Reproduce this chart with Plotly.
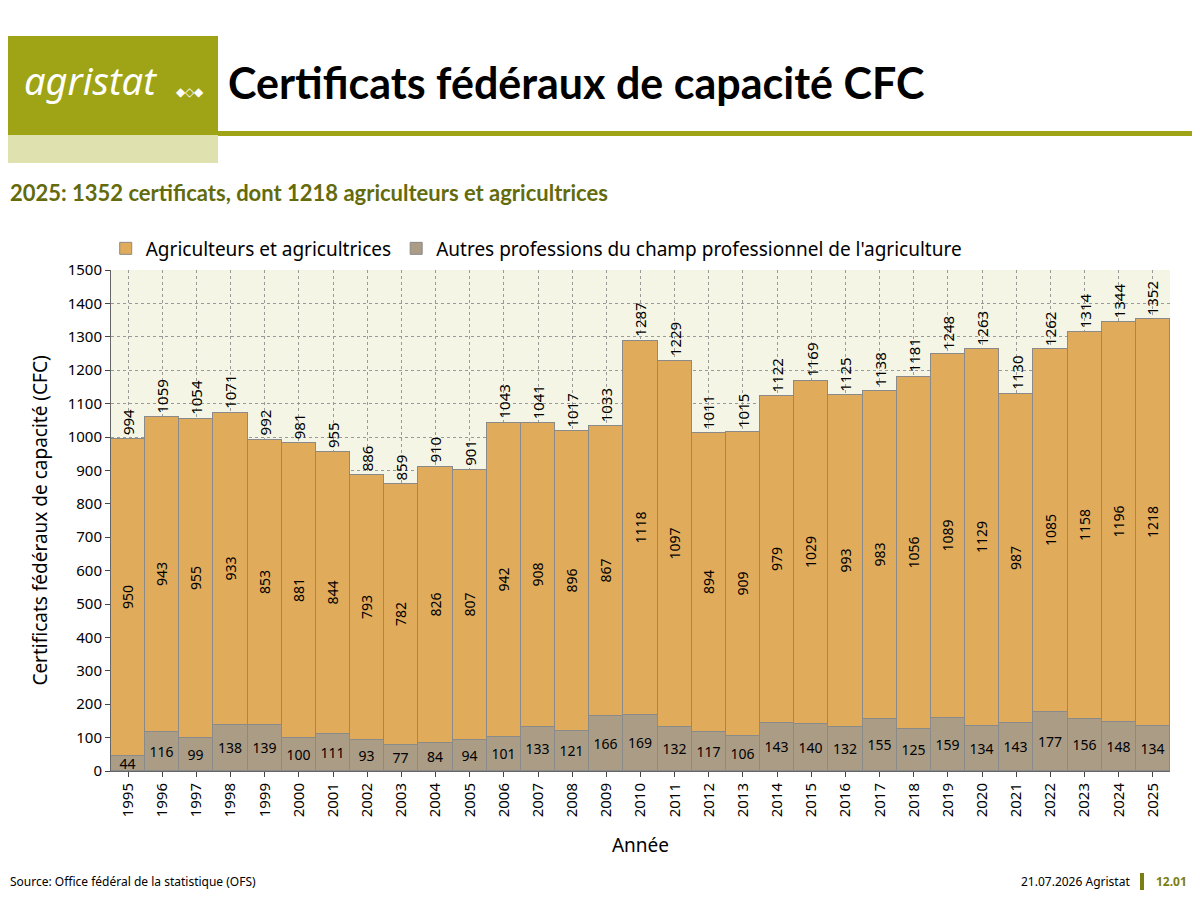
import plotly.graph_objects as go

years = [str(y) for y in range(1995, 2026)]
autres = [44, 116, 99, 138, 139, 100, 111, 93, 77, 84, 94, 101, 133, 121, 166, 169,
          132, 117, 106, 143, 140, 132, 155, 125, 159, 134, 143, 177, 156, 148, 134]
agriculteurs = [950, 943, 955, 933, 853, 881, 844, 793, 782, 826, 807, 942, 908, 896, 867, 1118,
                1097, 894, 909, 979, 1029, 993, 983, 1056, 1089, 1129, 987, 1085, 1158, 1196, 1218]
totaux = [a + b for a, b in zip(autres, agriculteurs)]

OLIVE = '#9ea415'
FONT = 'Noto Sans'

# the page keeps an 8px body margin: figure is 1184x884, placed at (8, 8)
W, H, OFF = 1184, 884, 8
L, R, T, B = 111 - OFF, 30 - OFF, 270 - OFF, 900 - 771 - OFF
PW, PH = W - L - R, H - T - B

def fx(x):
    return (x - OFF - L) / PW

def fy(y):
    return (H - (y - OFF) - B) / PH

fig = go.Figure()
fig.add_trace(go.Bar(
    x=years, y=autres, name="Autres professions du champ professionnel de l'agriculture",
    marker=dict(color='#ab9c86', line=dict(color='#8a8a8a', width=1)),
    text=autres, textposition='inside', insidetextanchor='middle', textangle=0,
    constraintext='none', textfont=dict(size=14, color='black'),
))
fig.add_trace(go.Bar(
    x=years, y=agriculteurs, name='Agriculteurs et agricultrices',
    marker=dict(color='#e0ab5b', line=dict(color='#8a8a8a', width=1)),
    text=agriculteurs, textposition='inside', insidetextanchor='middle', textangle=-90,
    constraintext='none', textfont=dict(size=14, color='black'),
))

# totals above the stacks (category index as x)
for i, t in enumerate(totaux):
    fig.add_annotation(x=i, y=t, text=str(t), textangle=-90, showarrow=False,
                       yanchor='bottom', yshift=2, font=dict(size=15, color='black'))

# header / footer blocks
rects = [
    (0, 218, 36, 135, OLIVE),
    (0, 218, 135, 163, '#dfe1ae'),
    (218, 1200, 131, 136, OLIVE),
    (1140, 1144, 873, 890, '#7b7e10'),
]
for x0, x1, y0, y1, c in rects:
    fig.add_shape(type='rect', xref='paper', yref='paper', x0=fx(x0), x1=fx(x1),
                  y0=fy(y1), y1=fy(y0), fillcolor=c, line=dict(width=0))

def px_ann(x, y, text, size, color='black', bold=False, xanchor='left', italic=False, family=FONT):
    if bold:
        text = '<b>' + text + '</b>'
    if italic:
        text = '<i>' + text + '</i>'
    fig.add_annotation(xref='paper', yref='paper', x=fx(x), y=fy(y),
                       text=text, showarrow=False, xanchor=xanchor, yanchor='middle',
                       font=dict(size=size, color=color, family=family))

px_ann(22, 80, 'agristat', 38, color='white', italic=True)
px_ann(174, 92, '◆◇◆', 12, color='white')
px_ann(226, 83, 'Certificats fédéraux de capacité CFC', 43, bold=True, family='Lato')
px_ann(8, 193, '2025: 1352 certificats, dont 1218 agriculteurs et agricultrices', 22,
       color='#636b0c', bold=True, family='Lato')
px_ann(8, 881, 'Source: Office fédéral de la statistique (OFS)', 12)
px_ann(1132, 881, '21.07.2026 Agristat', 12, xanchor='right')
px_ann(1154, 881, '12.01', 12, color='#7b7e10', bold=True)

fig.update_layout(
    width=W, height=H,
    barmode='stack', bargap=0,
    paper_bgcolor='white', plot_bgcolor='#f5f5e5',
    margin=dict(l=L, r=R, t=T, b=B),
    font=dict(family=FONT, size=15, color='black'),
    legend=dict(orientation='h', x=-0.005, y=1.005, xanchor='left', yanchor='bottom',
                traceorder='reversed', font=dict(size=19)),
)
fig.update_xaxes(type='category', range=[-0.5, len(years) - 0.5], tickangle=-90,
                 title=dict(text='Année', font=dict(size=19), standoff=22),
                 showgrid=True, gridcolor='#999999', griddash='dot',
                 showline=True, linecolor='#666666', ticks='outside', tickfont=dict(size=15))
fig.update_yaxes(range=[0, 1500], dtick=100,
                 title=dict(text='Certificats fédéraux de capacité (CFC)', font=dict(size=19)),
                 showgrid=True, gridcolor='#999999', griddash='dot', zeroline=False,
                 showline=True, linecolor='#666666', ticks='outside', tickfont=dict(size=15))

fig.write_html('out.html')
